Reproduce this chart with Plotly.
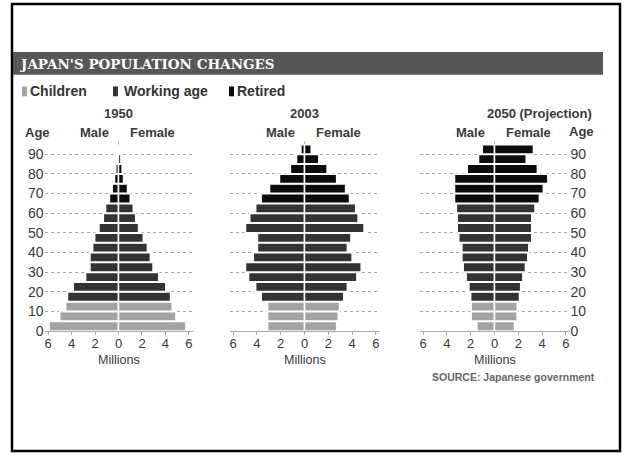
import plotly.graph_objects as go

W, H = 626, 461

# Five-year age groups, youngest first
AGE_GROUPS = ["0-4", "5-9", "10-14", "15-19", "20-24", "25-29", "30-34", "35-39",
              "40-44", "45-49", "50-54", "55-59", "60-64", "65-69", "70-74",
              "75-79", "80-84", "85-89", "90-94"]
GROUP_CLASS = (["Children"] * 3) + (["Working age"] * 10) + (["Retired"] * 6)

PANEL_TITLES = ["1950", "2003", "2050 (Projection)"]

# Population in millions by age group
MALE_1950 = [5.91, 5.00, 4.49, 4.34, 3.86, 2.80, 2.43, 2.43, 2.20, 2.03,
             1.66, 1.29, 1.10, 0.77, 0.54, 0.34, 0.23, 0.10, 0.0]
FEMALE_1950 = [5.74, 4.89, 4.57, 4.43, 4.03, 3.43, 2.94, 2.71, 2.46, 2.11,
               1.71, 1.46, 1.26, 1.00, 0.77, 0.43, 0.31, 0.20, 0.0]

MALE_2003 = [3.10, 3.10, 3.10, 3.64, 4.10, 4.70, 4.96, 4.30, 3.95, 3.95,
             4.96, 4.60, 4.10, 3.64, 2.94, 2.10, 1.18, 0.67, 0.30]
FEMALE_2003 = [2.70, 2.83, 2.94, 3.30, 3.60, 4.40, 4.76, 4.00, 3.60, 3.90,
               5.00, 4.50, 4.30, 3.78, 3.45, 2.70, 1.90, 1.20, 0.56]

MALE_2050 = [1.48, 1.96, 1.96, 2.00, 2.15, 2.38, 2.63, 2.74, 2.74, 3.00,
             3.13, 3.13, 3.20, 3.36, 3.36, 3.36, 2.29, 1.34, 1.03]
FEMALE_2050 = [1.68, 1.90, 1.90, 2.10, 2.20, 2.38, 2.60, 2.80, 2.88, 3.13,
               3.13, 3.13, 3.40, 3.77, 4.10, 4.48, 3.60, 2.66, 3.27]

PANELS = [(MALE_1950, FEMALE_1950), (MALE_2003, FEMALE_2003), (MALE_2050, FEMALE_2050)]

X_TICKS = [-6, -4, -2, 0, 2, 4, 6]
X_TICK_TEXT = ["6", "4", "2", "0", "2", "4", "6"]
AGE_TICKS = [0, 10, 20, 30, 40, 50, 60, 70, 80, 90]

COLORS = {"Children": "#a2a2a2", "Working age": "#333333", "Retired": "#0c0c0c"}
TEXT = "#3a3a3a"
FONT = "Liberation Sans"


def px(x):
    return x / W


def py(y):
    return 1 - y / H


X_DOMAINS = [[px(44.5), px(192.5)], [px(229.5), px(379.5)], [px(419.5), px(569.5)]]
Y_DOMAIN = [py(337), py(143)]
X_RANGE = [-6.3, 6.3]

mid_age = [int(g.split("-")[0]) + 2.5 for g in AGE_GROUPS]
bar_colors = [COLORS[c] for c in GROUP_CLASS]

fig = go.Figure()
for i, (male, female) in enumerate(PANELS):
    xa = "x" if i == 0 else f"x{i + 1}"
    ya = "y" if i == 0 else f"y{i + 1}"
    for vals, sign in ((male, -1), (female, 1)):
        fig.add_trace(go.Bar(
            y=mid_age, x=[sign * v for v in vals], orientation="h",
            marker=dict(color=bar_colors, line=dict(color="white", width=1.5)),
            xaxis=xa, yaxis=ya, showlegend=False, hoverinfo="skip",
        ))

layout = dict(
    width=W, height=H, autosize=False,
    margin=dict(l=0, r=0, t=0, b=0),
    paper_bgcolor="white", plot_bgcolor="white",
    barmode="relative", bargap=0.05,
    font=dict(family=FONT, color=TEXT),
)

for i in range(3):
    sfx = "" if i == 0 else str(i + 1)
    layout["xaxis" + sfx] = dict(
        domain=X_DOMAINS[i], range=X_RANGE, anchor="y" + sfx,
        tickvals=X_TICKS, ticktext=X_TICK_TEXT,
        showgrid=False, zeroline=True, zerolinecolor="#bdbdbd", zerolinewidth=1,
        showline=True, linecolor="#a8a8a8", linewidth=1,
        ticks="outside", ticklen=3, tickcolor="#a8a8a8", ticklabelstandoff=-3,
        tickfont=dict(size=13, color=TEXT), fixedrange=True,
    )
    layout["yaxis" + sfx] = dict(
        domain=Y_DOMAIN, range=[0, 97], anchor="x" + sfx,
        tickvals=AGE_TICKS, showgrid=True, gridcolor="#a8a8a8", griddash="dot",
        gridwidth=1, zeroline=False, showline=False, ticks="",
        showticklabels=(i != 1), side=("right" if i == 2 else "left"),
        tickfont=dict(size=14, color=TEXT), fixedrange=True,
    )

fig.update_layout(**layout)

shapes = [
    # outer frame
    dict(type="rect", xref="paper", yref="paper", x0=px(12), x1=px(620), y0=py(459), y1=py(4),
         line=dict(color="black", width=2.5), fillcolor="rgba(0,0,0,0)", layer="above"),
    # title band
    dict(type="rect", xref="paper", yref="paper", x0=px(13), x1=px(603), y0=py(76), y1=py(53),
         line=dict(width=0), fillcolor="#575757"),
]
legend_items = [("Children", 22, 28), ("Working age", 113, 122), ("Retired", 229, 235)]
for name, sx, _ in legend_items:
    shapes.append(dict(type="rect", xref="paper", yref="paper", x0=px(sx), x1=px(sx + 5),
                       y0=py(98), y1=py(88), line=dict(width=0), fillcolor=COLORS[name]))

ann = []


def text(s, x, y, size=13, bold=False, anchor="center", color=TEXT, xref="paper", family=FONT):
    ann.append(dict(
        text=f"<b>{s}</b>" if bold else s,
        x=x if xref != "paper" else px(x), y=py(y), xref=xref, yref="paper",
        xanchor=anchor, yanchor="middle", showarrow=False,
        font=dict(size=size, color=color, family=family),
    ))


text("JAPAN'S POPULATION CHANGES", 18, 65, size=13.5, bold=True, anchor="left",
     color="white", family="DejaVu Serif")
for name, _, tx in legend_items:
    text(name, tx, 93, size=14, bold=True, anchor="left", color="#333333")

text(PANEL_TITLES[0], 118.5, 116, size=13, bold=True)
text(PANEL_TITLES[1], 304.5, 116, size=13, bold=True)
text(PANEL_TITLES[2], 594, 115, size=13, bold=True, anchor="right")

text("Age", 23, 135, size=13, bold=True, anchor="left")
text("Age", 567, 134, size=13, bold=True, anchor="left")
for i in range(3):
    xr = "x" if i == 0 else f"x{i + 1}"
    text("Male", -0.6, 134.5, size=13, bold=True, anchor="right", xref=xr)
    text("Female", 0.8, 134.5, size=13, bold=True, anchor="left", xref=xr)
    text("Millions", 0, 366, size=12.5, anchor="center", xref=xr)

text("SOURCE: Japanese government", 597, 384, size=10.5, bold=True, anchor="right", color="#666666")

fig.update_layout(shapes=shapes, annotations=ann)
fig.write_html("out.html")
